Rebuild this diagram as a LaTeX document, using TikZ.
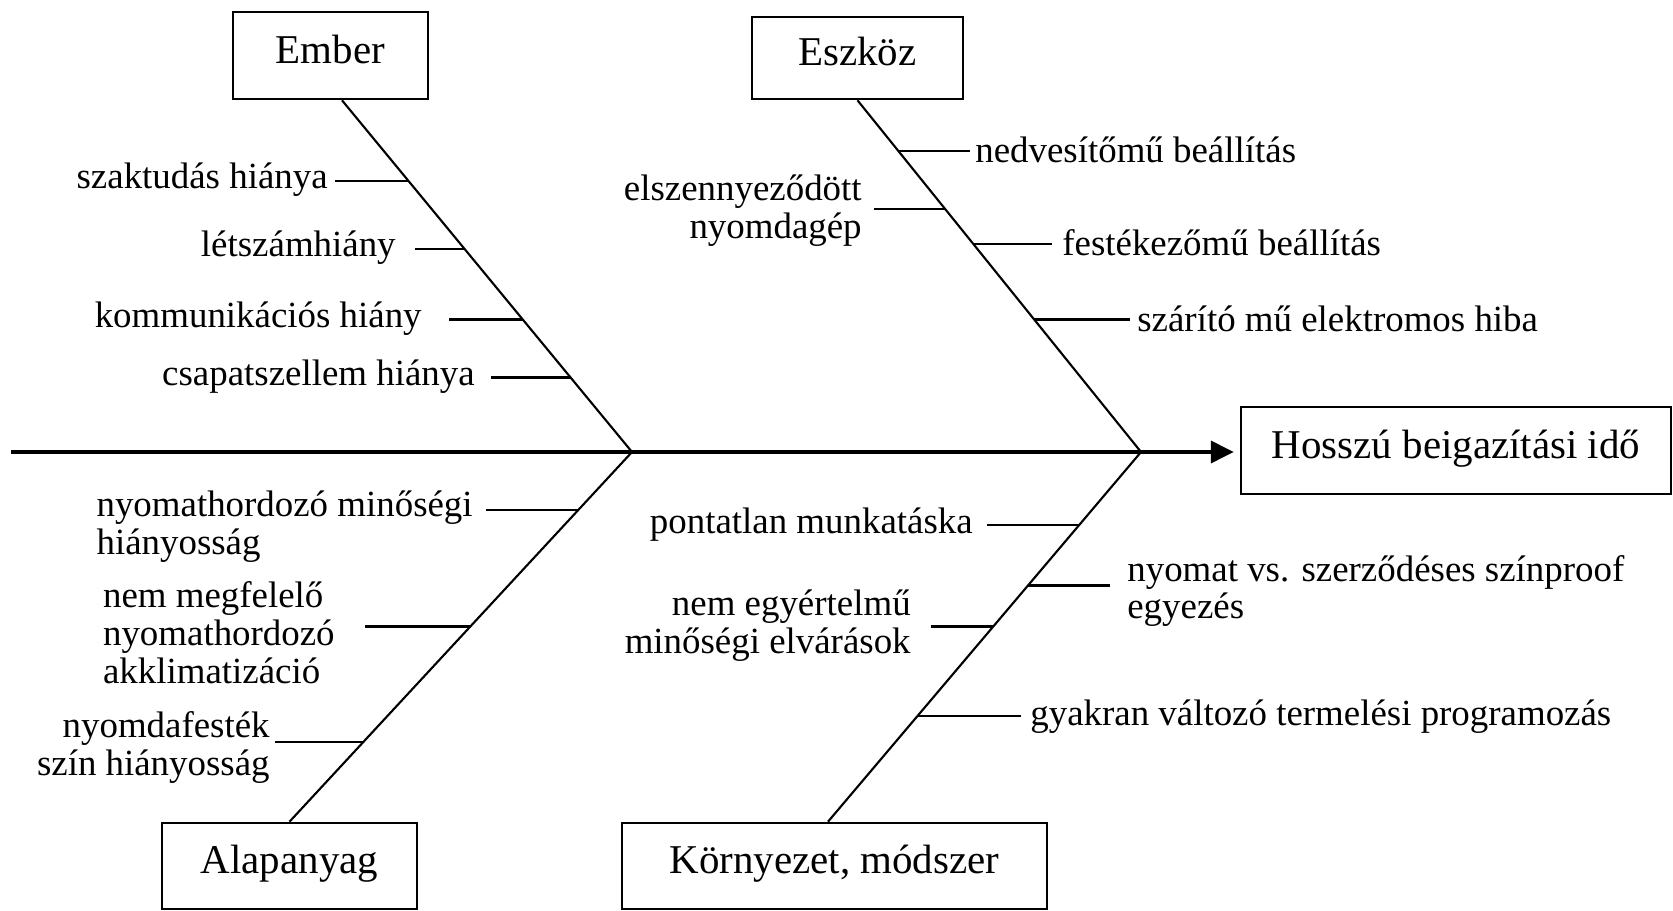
\documentclass[tikz,border=0pt]{standalone}
\usepackage{fontspec}
\setmainfont{Liberation Serif}
\usetikzlibrary{arrows.meta,calc}

\begin{document}
\begin{tikzpicture}[x=0.02cm, y=-0.02cm,
  cat/.style={draw, line width=1.5pt, inner sep=0pt, font=\fontsize{23.3}{26}\selectfont, text height=16pt, text depth=7pt},
  lab/.style={inner sep=0pt, font=\fontsize{21}{21.6}\selectfont},
  bone/.style={line width=1.2pt},
  tick/.style={line width=1.3pt},
  spine/.style={line width=1.9pt, -{Triangle[length=13pt, width=12.5pt]}}]
\useasboundingbox (0,0) rectangle (1673,911);

% categories and effect
\node[cat, minimum width=3.9cm, minimum height=1.74cm] (emb) at (330.5,55.5) {Ember};
\node[cat, minimum width=4.22cm, minimum height=1.64cm] (esz) at (857.5,58) {Eszköz};
\node[cat, minimum width=5.1cm, minimum height=1.72cm] (ala) at (289.5,866) {Alapanyag};
\node[cat, minimum width=8.5cm, minimum height=1.72cm] (kor) at (834.5,866) {Környezet, módszer};
\node[cat, minimum width=8.6cm, minimum height=1.74cm] (hos) at (1456,450.5) {Hosszú beigazítási idő};

% spine and bones
\coordinate (tail) at (11,452);
\coordinate (j1) at (632,452);
\coordinate (j2) at (1141,452);
\coordinate (et) at ([xshift=0.23cm]emb.south);
\coordinate (st) at (esz.south);
\coordinate (at) at (ala.north);
\coordinate (kt) at ([xshift=-0.13cm]kor.north);
\draw[spine, shorten >=3.4pt] (tail) -- (tail -| hos.west);
\draw[bone] (et) -- (j1) -- (at);
\draw[bone] (st) -- (j2) -- (kt);

\coordinate (e1) at ($(et)!0.229!(j1)$);
\coordinate (e2) at ($(et)!0.422!(j1)$);
\coordinate (e3) at ($(et)!0.623!(j1)$);
\coordinate (e4) at ($(et)!0.788!(j1)$);
\coordinate (s1) at ($(st)!0.144!(j2)$);
\coordinate (s2) at ($(st)!0.309!(j2)$);
\coordinate (s3) at ($(st)!0.408!(j2)$);
\coordinate (s4) at ($(st)!0.623!(j2)$);
\coordinate (a1) at ($(j1)!0.156!(at)$);
\coordinate (a2) at ($(j1)!0.472!(at)$);
\coordinate (a3) at ($(j1)!0.784!(at)$);
\coordinate (k1) at ($(j2)!0.197!(kt)$);
\coordinate (k2) at ($(j2)!0.361!(kt)$);
\coordinate (k3) at ($(j2)!0.472!(kt)$);
\coordinate (k4) at ($(j2)!0.714!(kt)$);

% Ember
\node[lab, anchor=east] (szak) at (328,180) {szaktudás hiánya};
\node[lab, anchor=east] (letsz) at (396,248) {létszámhiány};
\node[lab, anchor=east] (komm) at (422,319) {kommunikációs hiány};
\node[lab, anchor=east] (csap) at (475,377) {csapatszellem hiánya};
\draw[tick] (szak.east |- e1) ++(7,0) -- (e1);
\draw[tick] (letsz.east |- e2) ++(19,0) -- (e2);
\draw[tick] (komm.east |- e3) ++(27,0) -- (e3);
\draw[tick] (csap.east |- e4) ++(16,0) -- (e4);

% Eszkoz
\node[lab, anchor=west] (nedv) at (975,150) {nedvesítőmű beállítás};
\node[lab, anchor=east, align=right] (elsz) at (862,211) {elszennyeződött\\nyomdagép};
\node[lab, anchor=west] (fest) at (1062,243) {festékezőmű beállítás};
\node[lab, anchor=west] (szar) at (1137,319) {szárító mű elektromos hiba};
\draw[tick] (nedv.west |- s1) ++(-5,0) -- (s1);
\draw[tick] (elsz.east |- s2) ++(12,0) -- (s2);
\draw[tick] (fest.west |- s3) ++(-10,0) -- (s3);
\draw[tick] (szar.west |- s4) ++(-7,0) -- (s4);

% Alapanyag
\node[lab, anchor=east, align=left] (nyh) at (473,526.5) {nyomathordozó minőségi\\hiányosság};
\node[lab, anchor=east, align=left] (nemm) at (335,633) {nem megfelelő\\nyomathordozó\\akklimatizáció};
\node[lab, anchor=east, align=right] (nyfe) at (270,747.5) {nyomdafesték\\szín hiányosság};
\draw[tick] (nyh.east |- a1) ++(13,0) -- (a1);
\draw[tick] (nemm.east |- a2) ++(30,0) -- (a2);
\draw[tick] (nyfe.east |- a3) ++(5,0) -- (a3);

% Kornyezet, modszer
\node[lab, anchor=east] (pont) at (973,525) {pontatlan munkatáska};
\node[lab, anchor=west, align=left] (nyvs) at (1127,591) {nyomat vs. szerződéses színproof\\egyezés};
\node[lab, anchor=east, align=right] (egyert) at (911,626) {nem egyértelmű\\minőségi elvárások};
\node[lab, anchor=west] (gyak) at (1030,717) {gyakran változó termelési programozás};
\draw[tick] (pont.east |- k1) ++(14,0) -- (k1);
\draw[tick] (nyvs.west |- k2) ++(-17,0) -- (k2);
\draw[tick] (egyert.east |- k3) ++(20,0) -- (k3);
\draw[tick] (gyak.west |- k4) ++(-9,0) -- (k4);
\end{tikzpicture}
\end{document}
